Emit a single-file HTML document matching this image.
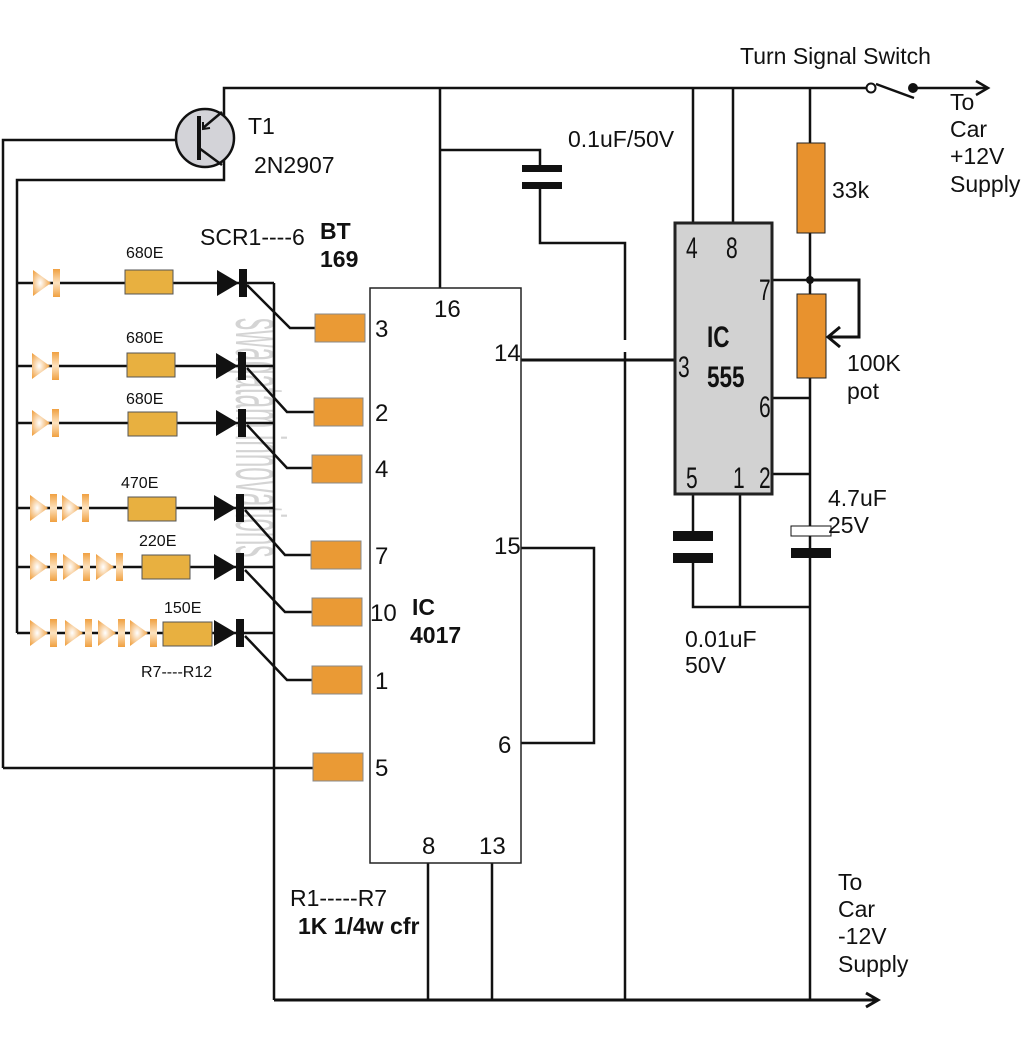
<!DOCTYPE html>
<html><head><meta charset="utf-8"><style>
html,body{margin:0;padding:0;background:#fff;}
svg{display:block;}
text{font-family:"Liberation Sans",sans-serif;fill:#111;}
</style></head><body>
<svg width="1024" height="1044" viewBox="0 0 1024 1044" xmlns="http://www.w3.org/2000/svg">
<defs>
<radialGradient id="lg" cx="0.4" cy="0.5" r="0.6">
<stop offset="0" stop-color="#fff"/><stop offset="1" stop-color="#f0a040"/></radialGradient>
<linearGradient id="bg" x1="0" x2="0" y1="0" y2="1">
<stop offset="0" stop-color="#f0a040"/><stop offset="0.5" stop-color="#fde3c0"/><stop offset="1" stop-color="#f0a040"/></linearGradient>
<g id="led"><polygon points="0,-13 18,0 0,13" fill="url(#lg)"/><rect x="20" y="-14" width="7" height="28" fill="url(#bg)"/></g>
<g id="scr"><polygon points="0,-13 22,0 0,13" fill="#111"/><rect x="22" y="-14" width="8" height="28" fill="#111"/></g>
</defs>
<text x="0" y="0" font-size="44" style="fill:#d4d4d4" transform="translate(236,318) rotate(90) scale(0.55,1.6)">swagatam innovations</text>
<g stroke="#111" stroke-width="2.5" fill="none">
<polyline points="224,118 224,88 868,88"/>
<line x1="876" y1="84" x2="914" y2="98"/>
<line x1="914" y1="88" x2="988" y2="88"/>
<polyline points="976,81 988,88 976,95"/>
<polyline points="3,768 3,140 187,140"/>
<polyline points="224,160 224,180 17,180 17,633"/>
<line x1="440" y1="88" x2="440" y2="288"/>
<polyline points="440,150 540,150 540,170"/>
<polyline points="540,188 540,243 625,243 625,340"/>
<line x1="625" y1="352" x2="625" y2="1000"/>
<line x1="693" y1="88" x2="693" y2="223"/>
<line x1="733" y1="88" x2="733" y2="223"/>
<line x1="810" y1="88" x2="810" y2="1000"/>
<line x1="772" y1="280" x2="810" y2="280"/>
<line x1="772" y1="398" x2="810" y2="398"/>
<line x1="772" y1="474" x2="810" y2="474"/>
<polyline points="810,280 859,280 859,337 828,337" stroke-width="3"/>
<polyline points="840,327 828,337 840,347" stroke-width="3"/>
<line x1="521" y1="360" x2="675" y2="360" stroke-width="3"/>
<line x1="693" y1="494" x2="693" y2="531"/>
<polyline points="693,563 693,607 810,607"/>
<line x1="740" y1="494" x2="740" y2="607"/>
<polyline points="521,548 594,548 594,743 521,743"/>
<line x1="428" y1="863" x2="428" y2="1000"/>
<line x1="492" y1="863" x2="492" y2="1000"/>
<line x1="274" y1="283" x2="274" y2="1000"/>
<line x1="274" y1="1000" x2="878" y2="1000" stroke-width="3"/>
<polyline points="866,993 878,1000 866,1007" stroke-width="3"/>
<line x1="17" y1="283" x2="274" y2="283"/>
<line x1="17" y1="366" x2="274" y2="366"/>
<line x1="17" y1="423" x2="274" y2="423"/>
<line x1="17" y1="508" x2="274" y2="508"/>
<line x1="17" y1="567" x2="274" y2="567"/>
<line x1="17" y1="633" x2="274" y2="633"/>
<polyline points="247,285 290,328 315,328"/>
<polyline points="247,368 287,412 315,412"/>
<polyline points="247,425 287,468 315,468"/>
<polyline points="245,510 285,555 312,555"/>
<polyline points="245,570 285,612 314,612"/>
<polyline points="245,636 287,680 313,680"/>
<line x1="3" y1="768" x2="315" y2="768"/>
</g>
<circle cx="205" cy="138" r="29" fill="#d3d3d8" stroke="#111" stroke-width="2.5"/>
<line x1="199" y1="116" x2="199" y2="160" stroke="#111" stroke-width="4"/>
<line x1="199" y1="148" x2="222" y2="165" stroke="#111" stroke-width="2.5"/>
<line x1="222" y1="112" x2="203" y2="128" stroke="#111" stroke-width="2.5"/>
<polyline points="203,122 203,129 210,128" stroke="#111" stroke-width="2" fill="none"/>
<rect x="522" y="165" width="40" height="7" fill="#111"/><rect x="522" y="182" width="40" height="7" fill="#111"/>
<rect x="673" y="531" width="40" height="10" fill="#111"/><rect x="673" y="553" width="40" height="10" fill="#111"/>
<rect x="791" y="526" width="40" height="10" fill="#fff" stroke="#111" stroke-width="1"/>
<rect x="791" y="548" width="40" height="10" fill="#111"/>
<rect x="675" y="223" width="97" height="271" fill="#d2d2d2" stroke="#222" stroke-width="3"/>
<rect x="370" y="288" width="151" height="575" fill="#fff" stroke="#222" stroke-width="1.5"/>
<g fill="#e8b040" stroke="#555" stroke-width="1">
<rect x="125" y="270" width="48" height="24"/>
<rect x="127" y="353" width="48" height="24"/>
<rect x="128" y="412" width="49" height="24"/>
<rect x="128" y="497" width="48" height="24"/>
<rect x="142" y="555" width="48" height="24"/>
<rect x="163" y="622" width="49" height="24"/>
</g>
<g fill="#ea9a35" stroke="#888" stroke-width="1">
<rect x="315" y="314" width="50" height="28"/>
<rect x="314" y="398" width="49" height="28"/>
<rect x="312" y="455" width="50" height="28"/>
<rect x="311" y="541" width="50" height="28"/>
<rect x="312" y="598" width="50" height="28"/>
<rect x="312" y="666" width="50" height="28"/>
<rect x="313" y="753" width="50" height="28"/>
<rect x="797" y="143" width="28" height="90" fill="#e8922e" stroke="#222"/>
<rect x="797" y="294" width="29" height="84" fill="#e8922e" stroke="#222"/>
</g>
<circle cx="810" cy="280" r="4" fill="#111"/>
<circle cx="871" cy="88" r="4.5" fill="#fff" stroke="#111" stroke-width="2"/>
<circle cx="913" cy="88" r="5" fill="#111"/>
<use href="#led" x="33" y="283"/>
<use href="#led" x="32" y="366"/>
<use href="#led" x="32" y="423"/>
<use href="#led" x="30" y="508"/><use href="#led" x="62" y="508"/>
<use href="#led" x="30" y="567"/><use href="#led" x="63" y="567"/><use href="#led" x="96" y="567"/>
<use href="#led" x="30" y="633"/><use href="#led" x="65" y="633"/><use href="#led" x="98" y="633"/><use href="#led" x="130" y="633"/>
<use href="#scr" x="217" y="283"/>
<use href="#scr" x="216" y="366"/>
<use href="#scr" x="216" y="423"/>
<use href="#scr" x="214" y="508"/>
<use href="#scr" x="214" y="567"/>
<use href="#scr" x="214" y="633"/>
<g font-size="23">
<text x="740" y="64">Turn Signal Switch</text>
<text x="950" y="110">To</text><text x="950" y="137">Car</text><text x="950" y="164">+12V</text><text x="950" y="192">Supply</text>
<text x="838" y="890">To</text><text x="838" y="917">Car</text><text x="838" y="944">-12V</text><text x="838" y="972">Supply</text>
<text x="248" y="134">T1</text><text x="254" y="173">2N2907</text>
<text x="568" y="147">0.1uF/50V</text>
<text x="832" y="198">33k</text>
<text x="847" y="371">100K</text><text x="847" y="399">pot</text>
<text x="828" y="506">4.7uF</text><text x="828" y="533">25V</text>
<text x="685" y="647">0.01uF</text><text x="685" y="673">50V</text>
<text x="200" y="245">SCR1----6</text>
<text x="290" y="906">R1-----R7</text>
</g>
<g font-size="23" font-weight="bold">
<text x="320" y="239">BT</text><text x="320" y="267">169</text>
<text x="298" y="934">1K 1/4w cfr</text>
<text x="412" y="615">IC</text><text x="410" y="643">4017</text>
</g>
<g font-size="30" font-weight="bold">
<text x="0" y="0" transform="translate(707 347) scale(0.75 1)">IC</text>
<text x="0" y="0" transform="translate(707 387) scale(0.75 1)">555</text>
</g>
<g font-size="16">
<text x="126" y="258">680E</text><text x="126" y="343">680E</text><text x="126" y="404">680E</text>
<text x="121" y="488">470E</text><text x="139" y="546">220E</text><text x="164" y="613">150E</text>
<text x="141" y="677">R7----R12</text>
</g>
<g font-size="24">
<text x="375" y="337">3</text><text x="375" y="421">2</text><text x="375" y="477">4</text>
<text x="375" y="564">7</text><text x="370" y="621">10</text><text x="375" y="689">1</text><text x="375" y="776">5</text>
<text x="434" y="317">16</text><text x="494" y="361">14</text><text x="494" y="554">15</text><text x="498" y="753">6</text>
<text x="422" y="854">8</text><text x="479" y="854">13</text>
</g>
<g font-size="30">
<text x="0" y="0" transform="translate(686 258) scale(0.7 1)">4</text>
<text x="0" y="0" transform="translate(726 258) scale(0.7 1)">8</text>
<text x="0" y="0" transform="translate(759 300) scale(0.7 1)">7</text>
<text x="0" y="0" transform="translate(678 377) scale(0.7 1)">3</text>
<text x="0" y="0" transform="translate(759 417) scale(0.7 1)">6</text>
<text x="0" y="0" transform="translate(686 488) scale(0.7 1)">5</text>
<text x="0" y="0" transform="translate(733 488) scale(0.7 1)">1</text>
<text x="0" y="0" transform="translate(759 488) scale(0.7 1)">2</text>
</g>
</svg>
</body></html>
